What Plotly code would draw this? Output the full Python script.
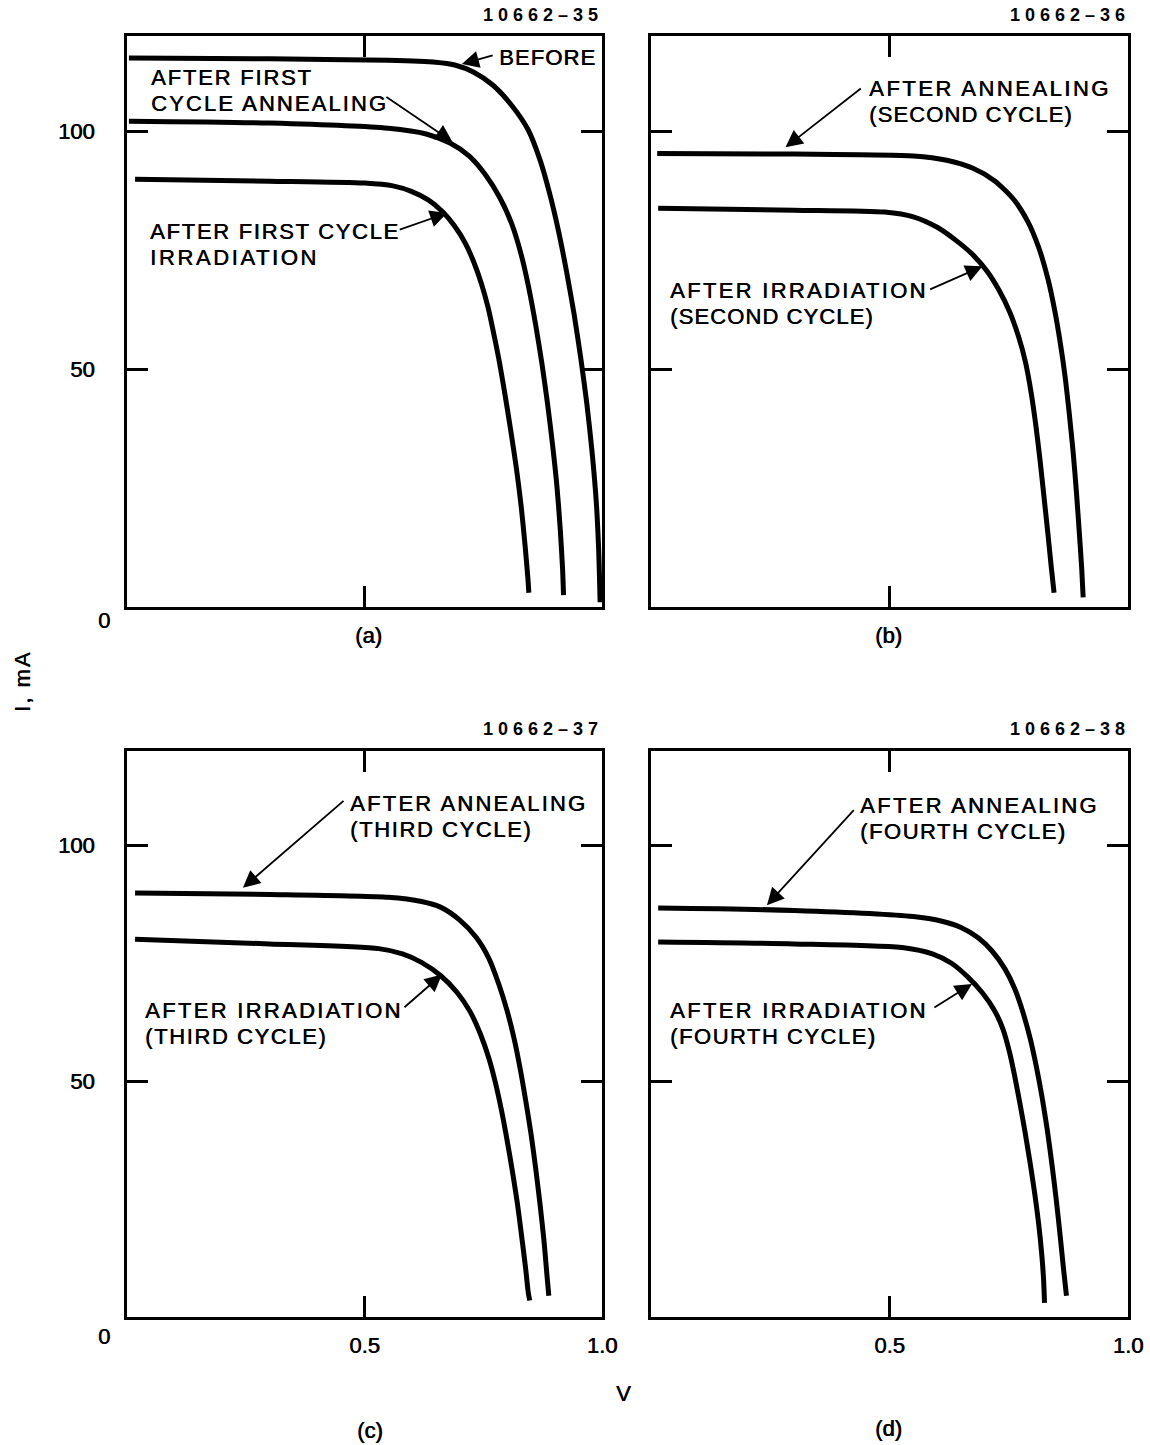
import plotly.graph_objects as go

# The figure div is 1165 px wide; horizontal positions below are expressed
# on a 1150-px grid and converted to paper fractions of that grid.
GRID_W, W, H = 1150, 1165, 1445
FONT = "Liberation Sans"

# ---------------- I-V curves (V in volts, I in mA) ----------------
# (a) first cycle
a_before_v = [0.004, 0.30, 0.55, 0.65, 0.69, 0.73, 0.77, 0.81, 0.845, 0.87, 0.89,
              0.908, 0.925, 0.941, 0.955, 0.968, 0.979, 0.988, 0.993, 0.996]
a_before_i = [115.4, 115.2, 114.9, 114.5, 113.9, 112.4, 109.7, 105.4, 100.2, 93.8, 86.8,
              79.2, 70.7, 61.7, 52.5, 42.8, 32.7, 22.0, 12.0, 1.0]
a_anneal_v = [0.004, 0.30, 0.55, 0.63, 0.68, 0.72, 0.755, 0.785, 0.81, 0.83,
              0.846, 0.86, 0.873, 0.885, 0.896, 0.905, 0.912, 0.917, 0.919]
a_anneal_i = [102.1, 101.7, 100.6, 99.4, 97.5, 94.8, 90.8, 86.0, 80.5, 74.0,
              67.0, 59.5, 51.5, 43.0, 34.0, 25.5, 16.5, 8.0, 2.5]
a_irrad_v = [0.017, 0.30, 0.50, 0.56, 0.60, 0.635, 0.665, 0.69, 0.712, 0.73, 0.746,
             0.76, 0.772, 0.784, 0.796, 0.808, 0.82, 0.83, 0.838, 0.844, 0.846]
a_irrad_i = [89.9, 89.5, 89.1, 88.5, 87.3, 85.5, 83.0, 80.0, 76.5, 72.5, 68.0,
             63.0, 57.5, 51.5, 44.5, 37.0, 29.0, 21.0, 13.0, 6.0, 3.0]

# (b) second cycle
b_anneal_v = [0.013, 0.30, 0.55, 0.62, 0.675, 0.72, 0.76, 0.79, 0.813, 0.832,
              0.847, 0.858, 0.868, 0.877, 0.885, 0.892, 0.898, 0.903, 0.906]
b_anneal_i = [95.3, 95.2, 94.8, 93.9, 92.2, 89.6, 85.7, 81.0, 75.5, 69.0,
              62.0, 55.5, 48.5, 40.5, 32.5, 24.0, 15.5, 8.0, 2.0]
b_irrad_v = [0.015, 0.30, 0.49, 0.55, 0.60, 0.64, 0.675, 0.705, 0.73, 0.752,
             0.77, 0.785, 0.797, 0.807, 0.816, 0.824, 0.832, 0.839, 0.845]
b_irrad_i = [83.8, 83.4, 83.0, 82.0, 79.8, 77.0, 74.0, 70.5, 66.5, 62.0,
             57.0, 51.5, 45.0, 38.0, 30.5, 23.0, 15.5, 8.5, 3.0]

# (c) third cycle
c_anneal_v = [0.017, 0.30, 0.55, 0.62, 0.66, 0.70, 0.735, 0.762, 0.783, 0.80,
              0.815, 0.828, 0.84, 0.851, 0.861, 0.87, 0.878, 0.884, 0.888]
c_anneal_i = [89.9, 89.6, 89.0, 88.1, 86.9, 84.2, 80.5, 76.0, 70.5, 65.0,
              59.0, 52.5, 45.5, 38.5, 31.0, 23.5, 16.0, 9.0, 4.5]
c_irrad_v = [0.017, 0.30, 0.53, 0.58, 0.62, 0.66, 0.695, 0.722, 0.744, 0.762,
             0.776, 0.789, 0.801, 0.812, 0.822, 0.831, 0.839, 0.845, 0.848]
c_irrad_i = [80.1, 79.1, 78.1, 77.0, 75.2, 72.4, 68.8, 64.8, 60.0, 54.8,
             49.5, 43.5, 37.0, 30.5, 24.0, 17.0, 10.5, 5.0, 3.5]

# (d) fourth cycle
d_anneal_v = [0.015, 0.30, 0.55, 0.61, 0.65, 0.686, 0.715, 0.742, 0.763, 0.78,
              0.795, 0.808, 0.82, 0.831, 0.841, 0.85, 0.858, 0.865, 0.871]
d_anneal_i = [86.7, 86.2, 84.9, 83.9, 82.6, 80.4, 77.6, 73.8, 69.5, 64.5,
              59.0, 53.0, 46.5, 39.5, 32.0, 24.5, 17.0, 10.0, 4.5]
d_irrad_v = [0.015, 0.30, 0.53, 0.59, 0.63, 0.665, 0.695, 0.72, 0.738, 0.752,
             0.762, 0.773, 0.784, 0.795, 0.805, 0.813, 0.819, 0.823, 0.825]
d_irrad_i = [79.5, 79.1, 78.3, 77.0, 75.0, 72.0, 68.7, 65.0, 61.0, 56.0,
             51.3, 45.5, 39.3, 32.5, 25.8, 19.5, 13.5, 8.0, 3.0]

# Axis ticks
x_ticks = [0.5, 1.0]
x_tick_text = ["0.5", "1.0"]
y_ticks = [50, 100]
y_tick_text = ["50", "100"]

# Figure numbers and panel letters
fig_numbers = ["10662\u201335", "10662\u201336", "10662\u201337", "10662\u201338"]
panel_letters = ["(a)", "(b)", "(c)", "(d)"]


def tracked(text, px):
    """Text with extra letter tracking."""
    return f'<span style="letter-spacing:{px}px">{text}</span>'


def paper(x, y):
    return x / GRID_W, 1 - y / H


# Panel boxes on the drawing grid: (left, top, right, bottom)
boxes = [
    (127, 36, 602, 607),
    (651, 36, 1128, 607),
    (127, 751, 602, 1317),
    (651, 751, 1128, 1317),
]

fig = go.Figure()

curves = [
    (1, a_before_v, a_before_i), (1, a_anneal_v, a_anneal_i), (1, a_irrad_v, a_irrad_i),
    (2, b_anneal_v, b_anneal_i), (2, b_irrad_v, b_irrad_i),
    (3, c_anneal_v, c_anneal_i), (3, c_irrad_v, c_irrad_i),
    (4, d_anneal_v, d_anneal_i), (4, d_irrad_v, d_irrad_i),
]
for k, v, i in curves:
    sfx = "" if k == 1 else str(k)
    fig.add_trace(go.Scatter(
        x=v, y=i, mode="lines", xaxis="x" + sfx, yaxis="y" + sfx,
        line=dict(color="black", width=5, shape="spline", smoothing=0.7),
        hoverinfo="skip", showlegend=False,
    ))

SHADOW = "0.6px 0 0 black"
axis_font = dict(family=FONT, size=22, color="black", shadow=SHADOW)
layout = dict(
    width=W, height=H, margin=dict(l=0, r=0, t=0, b=0), autosize=False,
    paper_bgcolor="white", plot_bgcolor="white", showlegend=False,
)
for k, (l, t, r, b) in enumerate(boxes, start=1):
    sfx = "" if k == 1 else str(k)
    bottom_row = k >= 3
    left_col = k in (1, 3)
    layout["xaxis" + sfx] = dict(
        domain=[l / GRID_W, r / GRID_W], anchor="y" + sfx, range=[0, 1],
        showgrid=False, zeroline=False, showline=True, linewidth=3, linecolor="black",
        mirror="ticks", ticks="inside", ticklen=21, tickwidth=2.5, tickcolor="black",
        tickvals=x_ticks if bottom_row else x_ticks[:1],
        ticktext=x_tick_text if bottom_row else x_tick_text[:1],
        showticklabels=bottom_row, tickfont=axis_font, ticklabelstandoff=7,
        fixedrange=True,
    )
    layout["yaxis" + sfx] = dict(
        domain=[1 - b / H, 1 - t / H], anchor="x" + sfx, range=[0, 120],
        showgrid=False, zeroline=False, showline=True, linewidth=3, linecolor="black",
        mirror="ticks", ticks="inside", ticklen=21, tickwidth=2.5, tickcolor="black",
        tickvals=y_ticks, ticktext=y_tick_text,
        showticklabels=left_col, tickfont=axis_font, ticklabelstandoff=25,
        fixedrange=True,
    )
fig.update_layout(**layout)

label_font = dict(family=FONT, size=22, color="black", shadow=SHADOW)
ann = []

# Curve labels: (panel, [(line, tracking)], V, I) — I is the centre of the block
curve_labels = [
    (1, [("BEFORE", 1.1)], 0.779, 115.5),
    (1, [("AFTER FIRST", 1.8), ("CYCLE ANNEALING", 2.1)], 0.046, 108.6),
    (1, [("AFTER FIRST CYCLE", 1.7), ("IRRADIATION", 2.6)], 0.044, 76.2),
    (2, [("AFTER ANNEALING", 2.5), ("(SECOND CYCLE)", 1.1)], 0.452, 106.2),
    (2, [("AFTER IRRADIATION", 2.3), ("(SECOND CYCLE)", 1.1)], 0.036, 63.8),
    (3, [("AFTER ANNEALING", 2.2), ("(THIRD CYCLE)", 1.6)], 0.465, 106.2),
    (3, [("AFTER IRRADIATION", 2.3), ("(THIRD CYCLE)", 1.6)], 0.034, 62.2),
    (4, [("AFTER ANNEALING", 2.3), ("(FOURTH CYCLE)", 1.5)], 0.434, 105.6),
    (4, [("AFTER IRRADIATION", 2.3), ("(FOURTH CYCLE)", 1.5)], 0.036, 62.2),
]
LINE_STEP = 26  # px between stacked label lines
for k, lines, v, i in curve_labels:
    sfx = "" if k == 1 else str(k)
    n = len(lines)
    for j, (txt, px) in enumerate(lines):
        ann.append(dict(
            x=v, y=i, xref="x" + sfx, yref="y" + sfx, text=tracked(txt, px),
            yshift=((n - 1) / 2 - j) * LINE_STEP,
            showarrow=False, xanchor="left", yanchor="middle", align="left",
            font=label_font,
        ))

# Leader arrows: (panel, head V, head I, tail V, tail I)
arrows = [
    (1, 0.705, 114.1, 0.773, 116.0),
    (1, 0.685, 97.8, 0.543, 107.4),
    (1, 0.674, 82.8, 0.571, 79.2),
    (2, 0.282, 96.6, 0.443, 109.2),
    (2, 0.695, 71.6, 0.582, 66.6),
    (3, 0.244, 91.0, 0.459, 109.7),
    (3, 0.663, 72.6, 0.581, 65.4),
    (4, 0.243, 87.3, 0.428, 107.8),
    (4, 0.673, 70.6, 0.591, 65.4),
]
for k, hv, hi, tv, ti in arrows:
    sfx = "" if k == 1 else str(k)
    ann.append(dict(
        x=hv, y=hi, ax=tv, ay=ti, xref="x" + sfx, yref="y" + sfx,
        axref="x" + sfx, ayref="y" + sfx, text="", showarrow=True,
        arrowhead=2, arrowsize=1.9, arrowwidth=1.8, arrowcolor="black", standoff=0,
    ))

# Figure numbers above each panel (right aligned)
num_pos = [(605, 15), (1132, 15), (605, 729), (1132, 729)]
for txt, (x, y) in zip(fig_numbers, num_pos):
    px_, py_ = paper(x, y)
    ann.append(dict(
        x=px_, y=py_, xref="paper", yref="paper", text=tracked(txt, 5),
        showarrow=False, xanchor="right", yanchor="middle",
        font=dict(family=FONT, size=18, color="black", weight="bold"),
    ))

# Panel letters
letter_pos = [(368, 635), (888, 635), (370, 1430), (888, 1428)]
for txt, (x, y) in zip(panel_letters, letter_pos):
    px_, py_ = paper(x, y)
    ann.append(dict(
        x=px_, y=py_, xref="paper", yref="paper", text=txt, showarrow=False,
        xanchor="center", yanchor="middle", font=label_font,
    ))

# Origin labels at the lower-left corners
for (x, y) in [(104, 621), (104, 1336)]:
    px_, py_ = paper(x, y)
    ann.append(dict(
        x=px_, y=py_, xref="paper", yref="paper", text="0", showarrow=False,
        xanchor="center", yanchor="middle", font=axis_font,
    ))

# Shared axis titles
vx, vy = paper(623, 1393)
ann.append(dict(x=vx, y=vy, xref="paper", yref="paper", text="V", showarrow=False,
                xanchor="center", yanchor="middle", font=axis_font))
ix, iy = paper(22, 682)
ann.append(dict(x=ix, y=iy, xref="paper", yref="paper", text=tracked("I, mA", 2),
                showarrow=False, textangle=-90, xanchor="center", yanchor="middle",
                font=axis_font))

fig.update_layout(annotations=ann)
fig.write_html("out.html", config={"responsive": False, "displayModeBar": False})
